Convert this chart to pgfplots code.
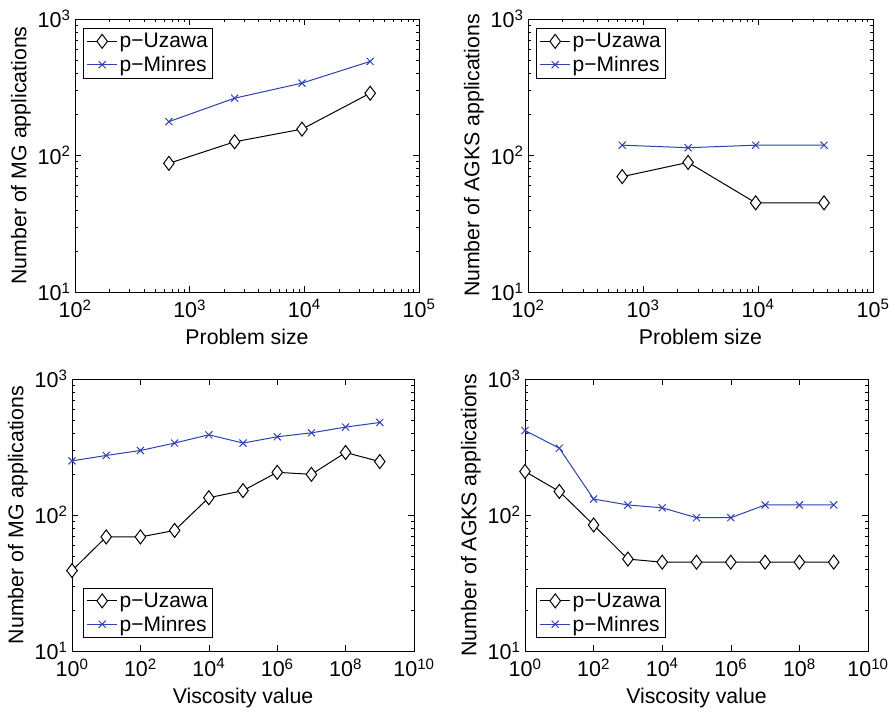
\documentclass[border=0pt]{standalone}
\usepackage{fontspec}
\setmainfont{Liberation Sans}
\usepackage{pgfplots}
\pgfplotsset{compat=1.18}
\definecolor{mblue}{RGB}{45,65,175}

\pgfplotsset{
  myaxis/.style={
    scale only axis,
    ymin=10, ymax=1000,
    ytick={10,100,1000},
    yticklabels={10\textsuperscript{1},10\textsuperscript{2},10\textsuperscript{3}},
    minor ytick={20,30,40,50,60,70,80,90,200,300,400,500,600,700,800,900},
    tick align=inside, major tick length=6bp, minor tick length=3bp,
    every tick/.style={black, line width=0.6bp},
    axis line style={line width=0.8bp},
    tick label style={font=\fontsize{21.5bp}{23bp}\selectfont},
    xticklabel style={yshift=-4bp},
    yticklabel style={xshift=-1bp},
    label style={font=\fontsize{21.3bp}{23bp}\selectfont},
    xlabel style={yshift=-4bp},
    ylabel style={yshift=0bp},
    legend style={font=\fontsize{21bp}{25bp}\selectfont, draw=black, line width=0.8bp, cells={anchor=west}, inner sep=3bp, row sep=3bp},
    legend image code/.code={\draw[mark repeat=2,mark phase=2] plot coordinates {(0bp,0bp) (15bp,0bp) (30bp,0bp)};},
  },
  topaxis/.style={myaxis,
    xmin=100, xmax=100000,
    xtick={100,1000,10000,100000},
    xticklabels={10\textsuperscript{2},10\textsuperscript{3},10\textsuperscript{4},10\textsuperscript{5}},
    minor xtick={200,300,400,500,600,700,800,900,2000,3000,4000,5000,6000,7000,8000,9000,20000,30000,40000,50000,60000,70000,80000,90000},
    xlabel={Problem size},
    legend style={at={(0.024,0.967)}, anchor=north west},
  },
  botaxis/.style={myaxis,
    xmin=1, xmax=1e10,
    xtick={1,100,1e4,1e6,1e8,1e10},
    xticklabels={10\textsuperscript{0},10\textsuperscript{2},10\textsuperscript{4},10\textsuperscript{6},10\textsuperscript{8},10\textsuperscript{10}},
    xminorticks=false,
    xlabel={Viscosity value},
    legend style={at={(0.033,0.048)}, anchor=south west},
  },
  uz/.style={black, line width=1bp, mark=diamond*, mark options={fill=white, solid}, mark size=7bp},
  mr/.style={mblue, line width=1bp, mark=x, mark size=5bp},
}

\begin{document}
\begin{tikzpicture}
\path[use as bounding box] (0,0) rectangle (895bp,713bp);

\begin{loglogaxis}[topaxis, at={(75bp,421bp)}, anchor=south west, width=344bp, height=273bp,
  ylabel={Number of MG applications}]
\addplot[uz] coordinates {(659,87.6) (2467,126) (9539,156) (37507,286)};
\addlegendentry{p−Uzawa}
\addplot[mr] coordinates {(659,177) (2467,263) (9539,339) (37507,489)};
\addlegendentry{p−Minres}
\end{loglogaxis}

\begin{loglogaxis}[topaxis, at={(528bp,421bp)}, anchor=south west, width=345bp, height=273bp,
  ylabel={Number of AGKS applications}]
\addplot[uz] coordinates {(659,70) (2467,89) (9539,45) (37507,45)};
\addlegendentry{p−Uzawa}
\addplot[mr] coordinates {(659,119) (2467,114) (9539,119) (37507,119)};
\addlegendentry{p−Minres}
\end{loglogaxis}

\begin{loglogaxis}[botaxis, at={(72bp,62bp)}, anchor=south west, width=342bp, height=272bp,
  ylabel={Number of MG applications}]
\addplot[uz] coordinates {(1,39) (10,69) (100,69) (1000,77) (1e4,134) (1e5,151) (1e6,206) (1e7,199) (1e8,288) (1e9,247)};
\addlegendentry{p−Uzawa}
\addplot[mr] coordinates {(1,250) (10,274) (100,298) (1000,338) (1e4,389) (1e5,338) (1e6,376) (1e7,402) (1e8,443) (1e9,479)};
\addlegendentry{p−Minres}
\end{loglogaxis}

\begin{loglogaxis}[botaxis, at={(525bp,62bp)}, anchor=south west, width=343bp, height=272bp,
  ylabel={Number of AGKS applications}]
\addplot[uz] coordinates {(1,209) (10,149) (100,84.5) (1000,47.4) (1e4,45) (1e5,45) (1e6,45) (1e7,45) (1e8,45) (1e9,45)};
\addlegendentry{p−Uzawa}
\addplot[mr] coordinates {(1,418) (10,310) (100,131) (1000,118.5) (1e4,113) (1e5,95.5) (1e6,95.5) (1e7,118.5) (1e8,118.5) (1e9,118.5)};
\addlegendentry{p−Minres}
\end{loglogaxis}
\end{tikzpicture}
\end{document}
